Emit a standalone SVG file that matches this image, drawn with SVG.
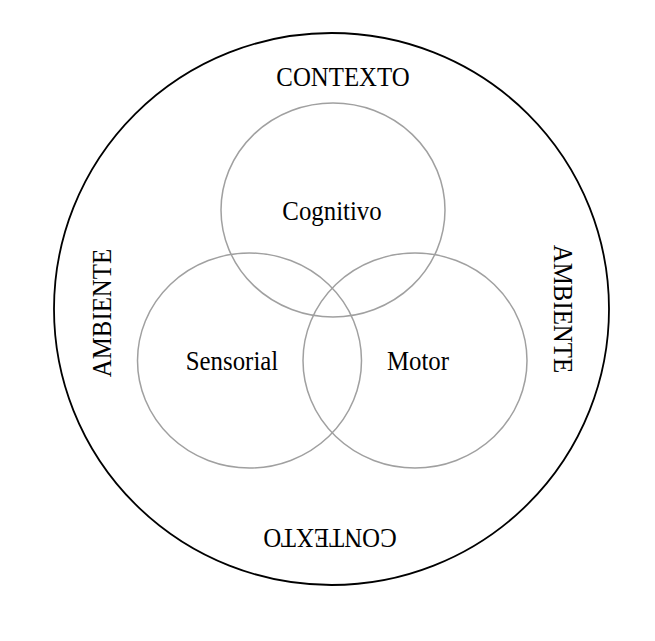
<svg xmlns="http://www.w3.org/2000/svg" width="655" height="641" viewBox="0 0 655 641">
  <style>
    .outer { fill: none; stroke: #000; stroke-width: 1.8; }
    .inner { fill: none; stroke: #a0a0a0; stroke-width: 1.5; }
    .lbl { font-family: "Liberation Serif", "Times New Roman", serif; font-size: 27px; fill: #000; text-anchor: middle; }
  </style>
  <rect width="655" height="641" fill="#fff"/>
  <g id="outer">
    <ellipse class="outer" cx="331.5" cy="309" rx="277.5" ry="276"/>
    <text class="lbl" transform="translate(343 86) scale(0.92 1)">CONTEXTO</text>
    <text class="lbl" transform="translate(330 529) rotate(180) scale(0.92 1)">CONTEXTO</text>
    <text class="lbl" transform="translate(111 313) rotate(-90) scale(0.92 1)">AMBIENTE</text>
    <text class="lbl" transform="translate(554 309) rotate(90) scale(0.92 1)">AMBIENTE</text>
  </g>
  <g id="cognitivo">
    <ellipse class="inner" cx="333" cy="210" rx="112" ry="107"/>
    <text class="lbl" transform="translate(332 220) scale(0.92 1)">Cognitivo</text>
  </g>
  <g id="sensorial">
    <ellipse class="inner" cx="249.5" cy="360.5" rx="112" ry="107.5"/>
    <text class="lbl" transform="translate(232 370) scale(0.92 1)">Sensorial</text>
  </g>
  <g id="motor">
    <ellipse class="inner" cx="415" cy="360.5" rx="112" ry="107.5"/>
    <text class="lbl" transform="translate(418 370) scale(0.92 1)">Motor</text>
  </g>
  <g id="connectors"/>
</svg>
